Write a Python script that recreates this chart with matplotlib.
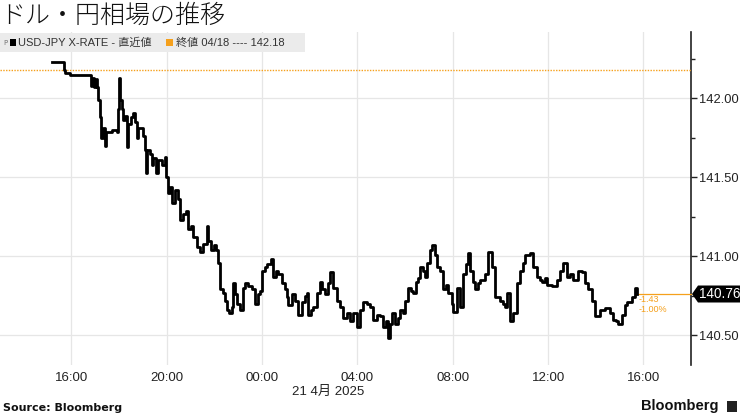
import matplotlib
matplotlib.use("Agg")
import matplotlib.pyplot as plt
import matplotlib.dates as mdates
from matplotlib.patches import Rectangle, Polygon
from matplotlib.ticker import MultipleLocator
import pandas as pd

plt.rcParams["font.family"] = ["Liberation Sans", "Noto Sans CJK JP"]

TITLE = "ドル・円相場の推移"
SERIES_LABEL = "USD-JPY X-RATE - 直近値"
PREV_LABEL = "終値 04/18 ---- 142.18"
PREV_CLOSE = 142.18
CHANGE = "-1.43"
CHANGE_PCT = "-1.00%"
DATE_LABEL = "21 4月 2025"

BASE = pd.Timestamp("2025-04-21 00:00")
# minutes relative to 21 Apr 00:00
minutes = [
    -529, -501, -500, -496, -483, -433, -431, -428, -423, -418, -415, -413, -408, -405, -400,
    -395, -393, -378, -365, -363, -360, -358, -353, -350, -345, -341, -337, -330, -326, -320,
    -316, -312, -307, -300, -295, -292, -290, -282, -277, -274, -267, -262, -252, -244, -242,
    -237, -232, -227, -219, -212, -206, -199, -191, -186, -179, -174, -164, -156, -149, -138,
    -136, -128, -121, -116, -111, -106, -98, -93, -88, -83, -76, -73, -68, -63, -55,
    -48, -43, -35, -25, -18, -10, -5, 0, 8, 13, 23, 28, 35, 40, 50,
    58, 63, 65, 76, 83, 91, 101, 108, 113, 116, 123, 128, 138, 146, 151,
    159, 166, 171, 179, 189, 196, 204, 214, 222, 229, 239, 247, 254, 264, 272,
    279, 290, 297, 305, 312, 317, 322, 327, 335, 342, 347, 355, 360, 368, 375,
    380, 388, 393, 398, 405, 410, 415, 423, 428, 436, 441, 448, 456, 463, 468,
    478, 481, 491, 499, 506, 514, 519, 524, 531, 536, 544, 549, 562, 569, 579,
    587, 599, 607, 612, 617, 624, 632, 642, 650, 657, 662, 675, 682, 692, 700,
    705, 713, 718, 730, 743, 750, 758, 768, 776, 783, 796, 806, 813, 821, 831,
    838, 851, 864, 876, 884, 891, 896, 906, 914, 919, 932, 939, 944,
]
prices = [
    142.23, 142.23, 142.18, 142.16, 142.15, 142.15, 142.08, 142.13, 142.07, 142.12, 142.07, 141.99, 141.88, 141.75, 141.81,
    141.70, 141.79, 141.80, 141.79, 141.93, 142.13, 141.99, 141.93, 141.86, 141.89, 141.69, 141.84, 141.88, 141.91, 141.85,
    141.75, 141.81, 141.81, 141.76, 141.67, 141.53, 141.67, 141.65, 141.58, 141.62, 141.53, 141.61, 141.58, 141.63, 141.50,
    141.40, 141.44, 141.34, 141.42, 141.36, 141.23, 141.27, 141.29, 141.17, 141.19, 141.12, 141.06, 141.03, 141.08, 141.19,
    141.10, 141.04, 141.07, 141.04, 140.96, 140.79, 140.77, 140.72, 140.66, 140.64, 140.68, 140.83, 140.76, 140.70, 140.66,
    140.80, 140.83, 140.81, 140.79, 140.70, 140.76, 140.78, 140.91, 140.93, 140.95, 140.98, 140.87, 140.91, 140.89, 140.83,
    140.79, 140.74, 140.69, 140.76, 140.72, 140.63, 140.71, 140.75, 140.77, 140.63, 140.66, 140.68, 140.77, 140.84, 140.79,
    140.76, 140.83, 140.90, 140.80, 140.72, 140.68, 140.61, 140.64, 140.59, 140.64, 140.55, 140.66, 140.71, 140.70, 140.68,
    140.60, 140.63, 140.62, 140.55, 140.59, 140.48, 140.57, 140.64, 140.57, 140.61, 140.66, 140.64, 140.72, 140.80, 140.78,
    140.77, 140.84, 140.86, 140.93, 140.91, 140.87, 140.96, 141.04, 141.07, 141.01, 140.93, 140.91, 140.79, 140.82, 140.77,
    140.70, 140.65, 140.80, 140.68, 140.89, 140.95, 141.02, 140.91, 140.84, 140.79, 140.83, 140.85, 140.89, 141.03, 140.93,
    140.74, 140.72, 140.70, 140.68, 140.77, 140.59, 140.64, 140.83, 140.91, 140.96, 141.01, 141.02, 140.93, 140.87, 140.85,
    140.84, 140.86, 140.82, 140.81, 140.85, 140.91, 140.96, 140.87, 140.89, 140.85, 140.91, 140.90, 140.83, 140.79, 140.72,
    140.62, 140.66, 140.67, 140.64, 140.60, 140.59, 140.57, 140.63, 140.69, 140.71, 140.74, 140.80, 140.76,
]

ORANGE = "#f5a01c"
GRID = "#e6e6e6"
INK = "#222222"

times = BASE + pd.to_timedelta(minutes, unit="min")
last_price = prices[-1]

fig = plt.figure(figsize=(7.4, 4.16), dpi=100)
ax = fig.add_axes([0.0, 0.1226, 0.934, 0.8005])

ax.plot(times, prices, color="black", lw=2.0, drawstyle="steps-post", zorder=4)

x0 = BASE - pd.Timedelta(minutes=660)
x1 = BASE + pd.Timedelta(minutes=1080)
ax.set_xlim(x0, x1)
ax.set_ylim(140.312, 142.42)

ax.axhline(PREV_CLOSE, color=ORANGE, lw=1.0, ls=(0, (1, 1)), zorder=3)
ax.plot([times[-1], x1], [last_price, last_price], color=ORANGE, lw=0.9, zorder=3, clip_on=False)

ax.xaxis.set_major_locator(mdates.HourLocator(byhour=range(0, 24, 4)))
ax.xaxis.set_major_formatter(mdates.DateFormatter("%H:%M"))
ax.yaxis.set_major_locator(MultipleLocator(0.5))
ax.yaxis.set_minor_locator(MultipleLocator(0.25))
ax.yaxis.set_major_formatter(lambda v, p: f"{v:.2f}")
ax.yaxis.tick_right()

ax.grid(True, which="major", color=GRID, lw=0.9)
ax.set_axisbelow(True)
for side in ("top", "left", "bottom"):
    ax.spines[side].set_visible(False)
ax.spines["right"].set_color(INK)
ax.spines["right"].set_linewidth(1.2)
ax.tick_params(axis="x", length=0, labelsize=9.5, pad=5, colors=INK)
ax.tick_params(axis="y", which="major", length=4, width=1, labelsize=9.3, pad=1.5, colors=INK)
ax.tick_params(axis="y", which="minor", length=3, width=1, colors=INK)

# legend bar
fig.patches.append(Rectangle((0, 1 - 52 / 416), 305 / 740, 19 / 416, transform=fig.transFigure,
                             facecolor="#ebebeb", edgecolor="none", zorder=5))
fig.text(3 / 740, 1 - 42.5 / 416, "ᴘ", fontsize=6, color="#888888", va="center", zorder=6,
         family=["DejaVu Sans"])
fig.patches.append(Rectangle((10 / 740, 1 - 46 / 416), 6 / 740, 7 / 416, transform=fig.transFigure,
                             facecolor="black", zorder=6))
fig.text(18 / 740, 1 - 42.5 / 416, SERIES_LABEL, fontsize=8, color="#333333", va="center", zorder=6)
fig.patches.append(Rectangle((166 / 740, 1 - 46 / 416), 7 / 740, 7 / 416, transform=fig.transFigure,
                             facecolor=ORANGE, zorder=6))
fig.text(176 / 740, 1 - 42.5 / 416, PREV_LABEL, fontsize=8, color="#333333", va="center", zorder=6)

# last value tag
tag_y = 1 - 294 / 416
fig.patches.append(Polygon([(692 / 740, tag_y), (698 / 740, tag_y + 8.5 / 416), (740 / 740, tag_y + 8.5 / 416),
                            (740 / 740, tag_y - 8.5 / 416), (698 / 740, tag_y - 8.5 / 416)],
                           closed=True, transform=fig.transFigure, facecolor="black", zorder=6))
fig.text(719.5 / 740, tag_y, f"{last_price:.2f}", fontsize=9.8, color="white", ha="center", va="center", zorder=7)
fig.text(639 / 740, 1 - 300 / 416, CHANGE, fontsize=6.5, color=ORANGE, va="center")
fig.text(639 / 740, 1 - 310 / 416, CHANGE_PCT, fontsize=6.5, color=ORANGE, va="center")

fig.text(0, 1 - 16 / 416, TITLE, fontsize=18, family=["Noto Sans CJK JP"], fontweight="light",
         va="center", color="#111111")
fig.text(328 / 740, 1 - 392 / 416, DATE_LABEL, fontsize=9.5, ha="center", va="center", color=INK)
fig.text(3 / 740, 1 - 408 / 416, "Source: Bloomberg", fontsize=8, fontweight="bold", va="center",
         color="#111111", family=["DejaVu Sans"])
fig.text(719 / 740, 1 - 406 / 416, "Bloomberg", fontsize=10.5, fontweight="bold", ha="right", va="center",
         color="#111111")
fig.patches.append(Rectangle((727 / 740, 1 - 412 / 416), 10 / 740, 11 / 416, transform=fig.transFigure,
                             facecolor=INK, zorder=6))

fig.savefig("out.png", dpi=100)
